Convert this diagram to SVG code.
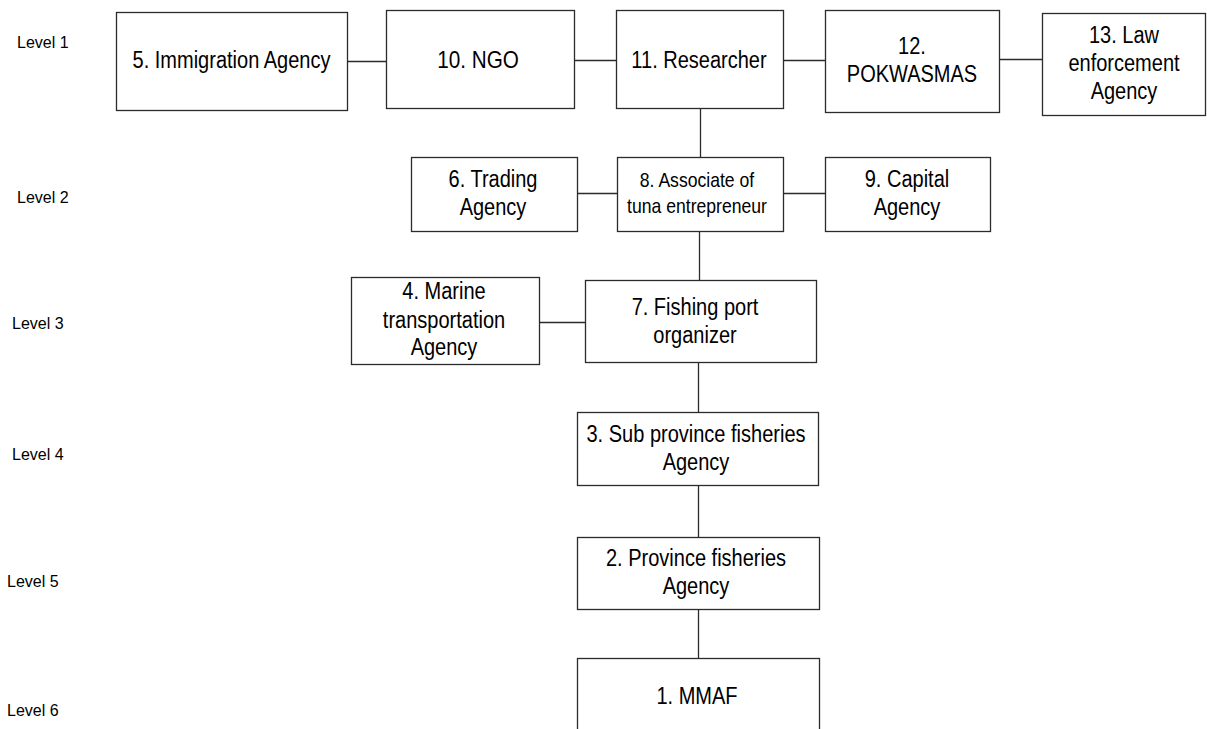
<svg xmlns="http://www.w3.org/2000/svg" width="1207" height="729" viewBox="0 0 1207 729">
  <style>
    .box { fill: #ffffff; stroke: #2b2b2b; stroke-width: 1.3; }
    .edge { fill: none; stroke: #2b2b2b; stroke-width: 1.3; }
    .lbl { font-family: "Liberation Sans", Arial, sans-serif; font-size: 23px; text-anchor: middle; fill: #000000; }
    .sm { font-size: 20px; }
    .lvl { font-family: "Liberation Sans", Arial, sans-serif; font-size: 16px; fill: #000000; }
  </style>
  <rect x="0" y="0" width="1207" height="729" fill="#ffffff"/>

  <!-- level captions -->
  <g id="levels">
    <text class="lvl" x="17" y="48">Level 1</text>
    <text class="lvl" x="17" y="203">Level 2</text>
    <text class="lvl" x="12" y="329">Level 3</text>
    <text class="lvl" x="12" y="460">Level 4</text>
    <text class="lvl" x="7" y="587">Level 5</text>
    <text class="lvl" x="7" y="716">Level 6</text>
  </g>

  <!-- connectors -->
  <g id="connectors">
    <line class="edge" x1="347" y1="61.5" x2="386" y2="61.5"/>
    <line class="edge" x1="574" y1="60.5" x2="616" y2="60.5"/>
    <line class="edge" x1="783" y1="60.5" x2="825" y2="60.5"/>
    <line class="edge" x1="999" y1="59.5" x2="1042" y2="59.5"/>
    <line class="edge" x1="700.5" y1="108" x2="700.5" y2="157"/>
    <line class="edge" x1="577" y1="193.5" x2="617" y2="193.5"/>
    <line class="edge" x1="783" y1="193.5" x2="825" y2="193.5"/>
    <line class="edge" x1="699.5" y1="231" x2="699.5" y2="280"/>
    <line class="edge" x1="539" y1="322.5" x2="585" y2="322.5"/>
    <line class="edge" x1="698.5" y1="362" x2="698.5" y2="412"/>
    <line class="edge" x1="698.5" y1="485" x2="698.5" y2="537"/>
    <line class="edge" x1="698.5" y1="609" x2="698.5" y2="658"/>
  </g>

  <!-- level 1 -->
  <g id="node5">
    <rect class="box" x="116.5" y="12.5" width="231" height="98"/>
    <g transform="translate(231.5 0) scale(0.87 1)"><text class="lbl" x="0" y="68">5. Immigration Agency</text></g>
  </g>
  <g id="node10">
    <rect class="box" x="386.5" y="10.5" width="188" height="98"/>
    <g transform="translate(478 0) scale(0.9 1)"><text class="lbl" x="0" y="68">10. NGO</text></g>
  </g>
  <g id="node11">
    <rect class="box" x="616.5" y="10.5" width="167" height="98"/>
    <g transform="translate(699 0) scale(0.87 1)"><text class="lbl" x="0" y="68">11. Researcher</text></g>
  </g>
  <g id="node12">
    <rect class="box" x="825.5" y="10.5" width="174" height="102"/>
    <g transform="translate(912 0) scale(0.87 1)">
      <text class="lbl" x="0" y="54">12.</text>
      <text class="lbl" x="0" y="82">POKWASMAS</text>
    </g>
  </g>
  <g id="node13">
    <rect class="box" x="1042.5" y="13.5" width="163" height="102"/>
    <g transform="translate(1124 0) scale(0.87 1)">
      <text class="lbl" x="0" y="43">13. Law</text>
      <text class="lbl" x="0" y="71">enforcement</text>
      <text class="lbl" x="0" y="99">Agency</text>
    </g>
  </g>

  <!-- level 2 -->
  <g id="node6">
    <rect class="box" x="411.5" y="157.5" width="166" height="74"/>
    <g transform="translate(493 0) scale(0.87 1)">
      <text class="lbl" x="0" y="187">6. Trading</text>
      <text class="lbl" x="0" y="215">Agency</text>
    </g>
  </g>
  <g id="node8">
    <rect class="box" x="617.5" y="157.5" width="166" height="74"/>
    <g transform="translate(697 0) scale(0.88 1)">
      <text class="lbl sm" x="0" y="187">8. Associate of</text>
      <text class="lbl sm" x="0" y="213">tuna entrepreneur</text>
    </g>
  </g>
  <g id="node9">
    <rect class="box" x="825.5" y="157.5" width="165" height="74"/>
    <g transform="translate(907 0) scale(0.87 1)">
      <text class="lbl" x="0" y="187">9. Capital</text>
      <text class="lbl" x="0" y="215">Agency</text>
    </g>
  </g>

  <!-- level 3 -->
  <g id="node4">
    <rect class="box" x="351.5" y="277.5" width="188" height="87"/>
    <g transform="translate(444 0) scale(0.87 1)">
      <text class="lbl" x="0" y="299">4. Marine</text>
      <text class="lbl" x="0" y="328">transportation</text>
      <text class="lbl" x="0" y="355">Agency</text>
    </g>
  </g>
  <g id="node7">
    <rect class="box" x="585.5" y="280.5" width="231" height="82"/>
    <g transform="translate(695 0) scale(0.87 1)">
      <text class="lbl" x="0" y="315">7. Fishing port</text>
      <text class="lbl" x="0" y="343">organizer</text>
    </g>
  </g>

  <!-- level 4 -->
  <g id="node3">
    <rect class="box" x="577.5" y="412.5" width="241" height="73"/>
    <g transform="translate(696 0) scale(0.87 1)">
      <text class="lbl" x="0" y="442">3. Sub province fisheries</text>
      <text class="lbl" x="0" y="470">Agency</text>
    </g>
  </g>

  <!-- level 5 -->
  <g id="node2">
    <rect class="box" x="577.5" y="537.5" width="242" height="72"/>
    <g transform="translate(696 0) scale(0.87 1)">
      <text class="lbl" x="0" y="566">2. Province fisheries</text>
      <text class="lbl" x="0" y="594">Agency</text>
    </g>
  </g>

  <!-- level 6 (box runs past the lower edge) -->
  <g id="node1">
    <rect class="box" x="577.5" y="658.5" width="242" height="90"/>
    <g transform="translate(697 0) scale(0.87 1)"><text class="lbl" x="0" y="704">1. MMAF</text></g>
  </g>
</svg>
